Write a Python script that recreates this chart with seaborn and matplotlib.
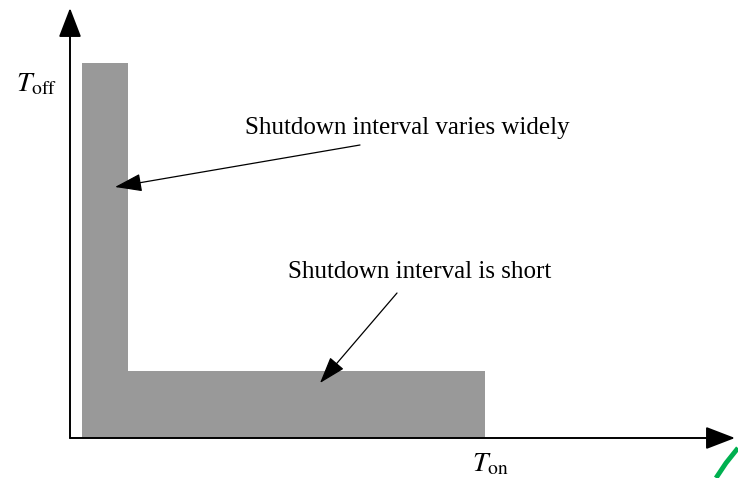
"""
Shutdown interval sketch: T_off versus T_on region
"""
import matplotlib
matplotlib.use("Agg")
import matplotlib.pyplot as plt
import seaborn as sns

# L-shaped region (units ~ pixels from the axis origin)
region_x = [12, 415, 415, 58, 58, 12]
region_y = [0, 0, 67, 67, 375, 375]

# axis extents
x_axis_end = 665
y_axis_end = 430

# annotations: text position, arrow tail, arrow head
notes = ["Shutdown interval varies widely", "Shutdown interval is short"]
note_xy = [(337, 310), (350, 166)]
tail_xy = [(290, 293), (327, 145)]
head_xy = [(45, 251), (250, 55)]

sns.set_theme(style="white")
plt.rcParams['font.family'] = ['Liberation Serif', 'DejaVu Serif']
plt.rcParams['mathtext.fontset'] = 'stix'
plt.rcParams['text.color'] = 'black'

fig = plt.figure(figsize=(7.38, 4.78), dpi=100)
ax = fig.add_axes([0, 0, 1, 1])
ax.set_xlim(-70, 668)
ax.set_ylim(-40, 438)
ax.axis('off')

ax.fill(region_x, region_y, color='#999999', lw=0, zorder=1)

# axes with filled arrow heads
axis_arrow = dict(arrowstyle='-|>,head_length=1.3,head_width=0.5', color='black',
                  lw=1.4, shrinkA=0, shrinkB=0, mutation_scale=14)
ax.annotate('', xy=(x_axis_end, 0), xytext=(0, 0), arrowprops=axis_arrow, zorder=3)
ax.annotate('', xy=(0, y_axis_end), xytext=(0, 0), arrowprops=axis_arrow, zorder=3)

ax.text(-33, 353, r'$T_{\mathrm{off}}$', fontsize=20, ha='center', va='center')
ax.text(420, -27, r'$T_{\mathrm{on}}$', fontsize=20, ha='center', va='center')

note_arrow = dict(arrowstyle='-|>,head_length=1.2,head_width=0.4', color='black',
                  lw=0.9, shrinkA=0, shrinkB=0, mutation_scale=14)
for label, txy, a, b in zip(notes, note_xy, tail_xy, head_xy):
    ax.text(txy[0], txy[1], label, fontsize=18, ha='center', va='center')
    ax.annotate('', xy=b, xytext=a, arrowprops=note_arrow, zorder=3)

# green stroke in the corner of the original
ax.plot([646, 656, 668], [-40, -25, -10], color='#00b050', lw=3.5,
        solid_capstyle='butt', clip_on=False)

fig.savefig('out.png', dpi=100)
